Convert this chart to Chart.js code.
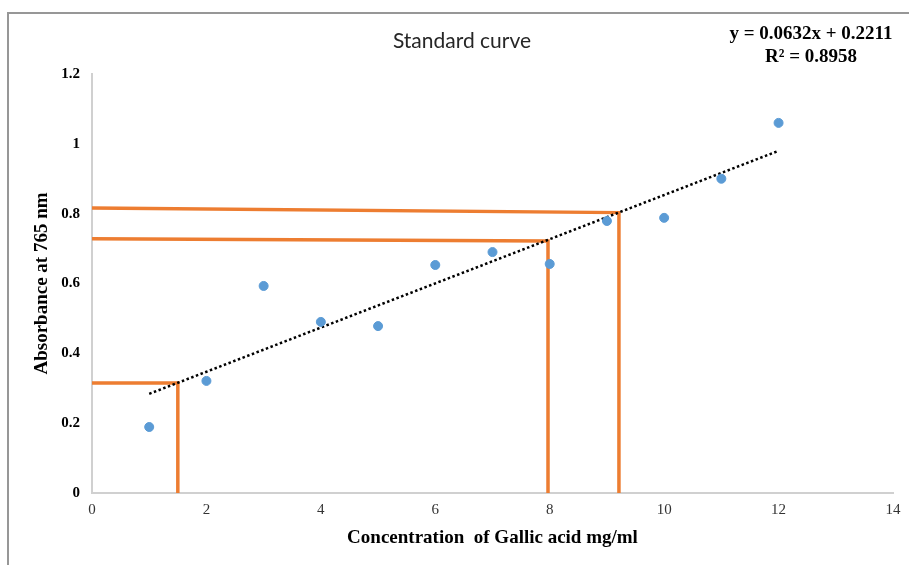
<!DOCTYPE html>
<html>
<head>
<meta charset="utf-8">
<script src="https://cdn.jsdelivr.net/npm/chart.js@4"></script>
<style>
  html, body { margin: 0; padding: 0; background: #fff; }
  #wrap { position: relative; width: 909px; height: 565px; overflow: hidden; }
  #frame { position: absolute; left: 7px; top: 12px; width: 1000px; height: 700px;
           border-left: 2px solid #979797; border-top: 2px solid #979797; }
  canvas { position: absolute; left: 0; top: 0; }
</style>
</head>
<body>
<div id="wrap">
  <div id="frame"></div>
  <canvas id="chart" width="909" height="565"></canvas>
</div>
<script>
// Données
const concentrations = [1, 2, 3, 4, 5, 6, 7, 8, 9, 10, 11, 12];
const absorbances = [0.189, 0.321, 0.593, 0.490, 0.478, 0.653, 0.690, 0.656, 0.779, 0.788, 0.900, 1.060];

// Droite de tendance (extrémités)
const trendX = [1, 12];
const trendY = [0.284, 0.980];

// Lignes orange de lecture
const guide1 = [[0, 0.315], [1.5, 0.315], [1.5, 0]];
const guide2 = [[0, 0.728], [7.97, 0.722], [7.97, 0]];
const guide3 = [[0, 0.816], [9.21, 0.803], [9.21, 0]];

const yTickLabels = ['0', '0.2', '0.4', '0.6', '0.8', '1', '1.2'];
const xTickLabels = ['0', '2', '4', '6', '8', '10', '12', '14'];

const chartTitle = 'Standard curve';
const equation = ['y = 0.0632x + 0.2211', 'R² = 0.8958'];

function toPoints(xs, ys) {
    return xs.map((x, i) => ({ x: x, y: ys[i] }));
}
function pairs(arr) {
    return arr.map(p => ({ x: p[0], y: p[1] }));
}

const orange = '#ED7D31';

// Titre et équation dessinés sur le canvas
const textPlugin = {
    id: 'texts',
    afterDraw(chart) {
        const ctx = chart.ctx;
        ctx.save();
        ctx.fillStyle = '#262626';
        ctx.font = '21px Lato';
        ctx.textAlign = 'center';
        ctx.textBaseline = 'middle';
        ctx.fillText(chartTitle, 462, 41);
        ctx.fillStyle = '#000';
        ctx.font = 'bold 19px "Liberation Serif"';
        ctx.fillText(equation[0], 811, 34);
        ctx.fillText(equation[1], 811, 57);
        ctx.restore();
    }
};

const guideStyle = {
    type: 'line',
    borderColor: orange,
    borderWidth: 3.5,
    pointRadius: 0,
    fill: false,
    tension: 0,
    order: 3
};

const ctx = document.getElementById('chart').getContext('2d');
const chart = new Chart(ctx, {
    type: 'scatter',
    data: {
        datasets: [
            Object.assign({ label: 'g1', data: pairs(guide1) }, guideStyle),
            Object.assign({ label: 'g2', data: pairs(guide2) }, guideStyle),
            Object.assign({ label: 'g3', data: pairs(guide3) }, guideStyle),
            {
                label: 'trend',
                type: 'line',
                data: toPoints(trendX, trendY),
                borderColor: '#000',
                borderWidth: 2.5,
                borderDash: [2.5, 2.5],
                pointRadius: 0,
                fill: false,
                order: 2
            },
            {
                label: 'Absorbance',
                data: toPoints(concentrations, absorbances),
                backgroundColor: '#5B9BD5',
                borderColor: '#5B9BD5',
                pointRadius: 4.5,
                order: 1
            }
        ]
    },
    options: {
        responsive: false,
        animation: false,
        layout: { padding: { left: 0, right: 16, top: 74, bottom: 0 } },
        plugins: {
            legend: { display: false },
            title: { display: false },
            tooltip: { enabled: false }
        },
        scales: {
            x: {
                type: 'linear',
                min: 0,
                max: 14,
                ticks: {
                    stepSize: 2,
                    padding: 8,
                    color: '#333',
                    font: { family: 'Liberation Serif', size: 15 },
                    callback: (v, i) => xTickLabels[i]
                },
                grid: { display: false, drawTicks: false },
                border: { color: '#d0d0d0', width: 2 },
                title: {
                    display: true,
                    text: 'Concentration  of Gallic acid mg/ml',
                    color: '#000',
                    font: { family: 'Liberation Serif', size: 19, weight: 'bold' },
                    padding: { top: 0, bottom: 16 }
                },
                afterFit(scale) { scale.height = 72; }
            },
            y: {
                type: 'linear',
                min: 0,
                max: 1.2,
                ticks: {
                    stepSize: 0.2,
                    padding: 12,
                    color: '#000',
                    font: { family: 'Liberation Serif', size: 15, weight: 'bold' },
                    callback: (v, i) => yTickLabels[i]
                },
                grid: { display: false, drawTicks: false },
                border: { color: '#d0d0d0', width: 2 },
                title: {
                    display: true,
                    text: 'Absorbance at 765 nm',
                    color: '#000',
                    font: { family: 'Liberation Serif', size: 19, weight: 'bold' },
                    padding: { top: 31, bottom: 0 }
                },
                afterFit(scale) { scale.width = 92; }
            }
        }
    },
    plugins: [textPlugin]
});
</script>
</body>
</html>
